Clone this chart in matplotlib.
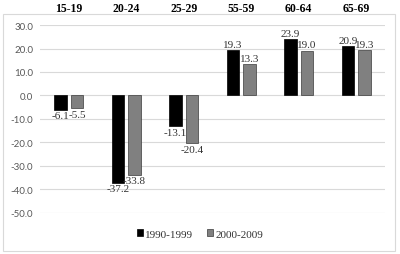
import numpy as np
import matplotlib.pyplot as plt
from matplotlib.patches import Rectangle

age_groups = ['15-19', '20-24', '25-29', '55-59', '60-64', '65-69']
series_names = ['1990-1999', '2000-2009']
vals_1990s = [-6.1, -37.2, -13.1, 19.3, 23.9, 20.9]
vals_2000s = [-5.5, -33.8, -20.4, 13.3, 19.0, 19.3]
yticks = [30, 20, 10, 0, -10, -20, -30, -40, -50]

fig = plt.figure(figsize=(4.0, 2.55), dpi=100)
fig.patches.append(Rectangle((3 / 400, 3 / 255), 392 / 400, 237 / 255,
                             transform=fig.transFigure, fill=False,
                             edgecolor='#d9d9d9', linewidth=0.8))
ax = fig.add_axes([0.10, 0.161, 0.8625, 0.737])

x = np.arange(len(age_groups))
w = 0.22
off = 0.145
b1 = ax.bar(x - off, vals_1990s, w, color='#000000', edgecolor='#000000',
            linewidth=0.5, label=series_names[0], zorder=3)
b2 = ax.bar(x + off, vals_2000s, w, color='#808080', edgecolor='#3a3a3a',
            linewidth=0.5, label=series_names[1], zorder=3)

serif = ['Liberation Serif', 'DejaVu Serif']
for bars in (b1, b2):
    for r in bars:
        v = r.get_height()
        cx = r.get_x() + r.get_width() / 2
        ax.annotate(f'{v:.1f}', (cx, v), xytext=(0, 1 if v >= 0 else -1),
                    textcoords='offset points', ha='center',
                    va='bottom' if v >= 0 else 'top',
                    fontsize=8, family=serif, color='#333333', zorder=4)

ax.set_xlim(-0.5, 5.5)
ax.set_ylim(-50, 30)
ax.set_yticks(yticks)
ax.set_yticklabels([f'{t:.1f}' for t in yticks], fontsize=7, color='#595959', family='Lato')
ax.yaxis.grid(True, color='#d9d9d9', linewidth=0.8, zorder=0)
ax.tick_params(axis='y', length=0, pad=5)

ax.xaxis.tick_top()
ax.set_xticks(x)
ax.set_xticklabels(age_groups, fontsize=8.5, family=serif, fontweight='bold', color='#000000')
ax.tick_params(axis='x', length=0, pad=8)

for s in ax.spines.values():
    s.set_visible(False)

leg = fig.legend(loc='center', bbox_to_anchor=(0.5, 1 - 235 / 255), ncol=2, frameon=False,
                 prop={'family': serif, 'size': 8}, handlelength=0.6, handleheight=0.6,
                 handletextpad=0.2, columnspacing=1.2)
for t in leg.get_texts():
    t.set_color('#333333')

fig.savefig('out.png', dpi=100)
